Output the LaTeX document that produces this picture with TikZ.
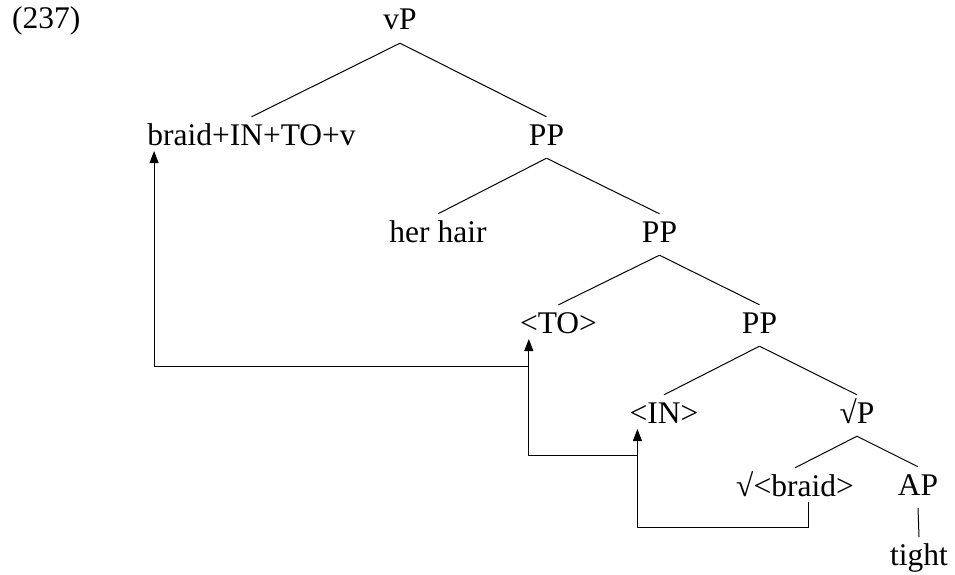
\documentclass[tikz,border=0pt]{standalone}
\usepackage{fontspec}
\setmainfont{Liberation Serif}
\usetikzlibrary{calc,arrows.meta}
\begin{document}
\begin{tikzpicture}[x=1pt,y=-1pt,
  lbl/.style={anchor=base,inner sep=0pt,text height=28pt,text depth=13pt,font=\fontsize{31.5}{36}\selectfont},
  edge/.style={line width=1pt},
  mvline/.style={line width=1pt},
  mvarrow/.style={mvline,-{Triangle[length=12pt,width=9pt]}}]
\useasboundingbox (0,0) rectangle (955,575);
\node[lbl,anchor=base west] (ex) at (12,29) {(237)};
\node[lbl] (vP) at (400,30) {vP};
\node[lbl] (V) at (251.5,145) {braid+IN+TO+v};
\node[lbl] (PPa) at (546.5,145) {PP};
\node[lbl] (hh) at (438,242) {her hair};
\node[lbl] (PPb) at (659.5,242) {PP};
\node[lbl] (TO) at (558.5,333) {<TO>};
\node[lbl] (PPc) at (759.5,333) {PP};
\node[lbl] (IN) at (664,423) {<IN>};
\node[lbl] (rP) at (857,423) {√P};
\node[lbl] (rb) at (795,496) {√<braid>};
\node[lbl] (AP) at (918,495) {AP};
\node[lbl] (tight) at (919,565) {tight};
% tree edges
\draw[edge] (vP.south) -- (V.north);
\draw[edge] (vP.south) -- (PPa.north);
\draw[edge] (PPa.south) -- (hh.north);
\draw[edge] (PPa.south) -- (PPb.north);
\draw[edge] (PPb.south) -- (TO.north);
\draw[edge] (PPb.south) -- (PPc.north);
\draw[edge] (PPc.south) -- (IN.north);
\draw[edge] (PPc.south) -- (rP.north);
\draw[edge] (rP.south) -- (rb.north);
\draw[edge] (rP.south) -- (AP.north);
\draw[edge] (AP.south) -- (tight.north);
% movement arrows
\coordinate (t1) at ($(V.base west)+(7pt,-6pt)$);
\coordinate (t2) at ($(TO.base west)+(9pt,-6pt)$);
\coordinate (t3) at ($(IN.base west)+(8pt,-6pt)$);
\coordinate (s1) at ($(t2)+(0pt,-27pt)$);
\coordinate (s2) at ($(t3)+(0pt,-26pt)$);
\coordinate (s3) at ($(rb.base)+(13pt,-6pt)$);
\coordinate (b3) at ($(rb.base)+(13pt,-31pt)$);
\draw[mvarrow] (s1) -| (t1);
\draw[mvarrow] (s2) -| (t2);
\draw[mvarrow] (s3) -- (b3) -| (t3);
\end{tikzpicture}
\end{document}
